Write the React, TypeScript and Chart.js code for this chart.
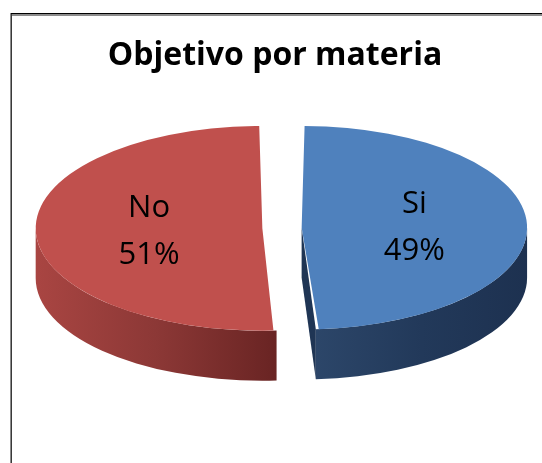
import React, { useEffect, useRef } from 'react';
import { Chart, registerables } from 'chart.js';

Chart.register(...registerables);

// ---- data ----
const categories = ['Si', 'No'];
const values = [49, 51];
const titleText = 'Objetivo por materia';

// ---- styles ----
const topColors = ['#4F81BD', '#C0504D'];
const sideStops = [
  ['#2C4669', '#22395A', '#1D3150'],
  ['#A94542', '#8C3836', '#692423'],
];
const cutFaceColors = ['#1F3554', '#6E2826'];

const CENTER_X = 282;
const CENTER_Y = 228;
const SCALE_X = 2.07;
const SCALE_Y = 0.935;
const DEPTH = 50;
const RADIUS = 100;
const EXPLODE = 38;
const LABEL_FRACTION = 0.5;
const TAU = Math.PI * 2;

function arcGeom(a: any) {
  const o4 = (a.options.offset || 0) / 4;
  const half = (a.startAngle + a.endAngle) / 2;
  const fix = 1 - Math.sin(Math.min(Math.PI, a.circumference || 0));
  const R = a.outerRadius + o4 * fix;
  const px = a.x + Math.cos(half) * o4;
  const py = a.y + Math.sin(half) * o4;
  return { R, px, py, half };
}

function visibleRanges(s: number, e: number) {
  const out: number[][] = [];
  for (let k = -2; k <= 2; k++) {
    const a = Math.max(s, k * TAU);
    const b = Math.min(e, Math.PI + k * TAU);
    if (b > a) out.push([a, b]);
  }
  return out;
}

const pie3d = {
  id: 'pie3d',
  beforeDatasetsDraw(chart: any) {
    const ctx = chart.ctx;
    const meta = chart.getDatasetMeta(0);
    const arcs = meta.data;
    if (!arcs.length) return;
    const cx = arcs[0].x;
    const cy = arcs[0].y;
    ctx.save();
    ctx.translate(CENTER_X, CENTER_Y);
    ctx.scale(SCALE_X, SCALE_Y);
    ctx.translate(-cx, -cy);
    const d = DEPTH / SCALE_Y;

    arcs.forEach((a: any, i: number) => {
      const { R, px, py } = arcGeom(a);
      // visible cut faces
      const faces: number[] = [];
      if (Math.cos(a.endAngle) > 1e-6) faces.push(a.endAngle);
      if (-Math.cos(a.startAngle) > 1e-6) faces.push(a.startAngle);
      faces.forEach((th) => {
        const ex = px + Math.cos(th) * R;
        const ey = py + Math.sin(th) * R;
        ctx.beginPath();
        ctx.moveTo(px, py);
        ctx.lineTo(ex, ey);
        ctx.lineTo(ex, ey + d);
        ctx.lineTo(px, py + d);
        ctx.closePath();
        ctx.fillStyle = cutFaceColors[i % cutFaceColors.length];
        ctx.fill();
      });
      // curved side walls
      visibleRanges(a.startAngle, a.endAngle).forEach(([s, e]) => {
        let xmin = Infinity;
        let xmax = -Infinity;
        for (let k = 0; k <= 40; k++) {
          const t = s + ((e - s) * k) / 40;
          const x = px + Math.cos(t) * R;
          xmin = Math.min(xmin, x);
          xmax = Math.max(xmax, x);
        }
        const g = ctx.createLinearGradient(xmin, 0, xmax, 0);
        const stops = sideStops[i % sideStops.length];
        stops.forEach((c: string, k: number) => g.addColorStop(k / (stops.length - 1), c));
        ctx.beginPath();
        ctx.arc(px, py, R, s, e, false);
        ctx.arc(px, py + d, R, e, s, true);
        ctx.closePath();
        ctx.fillStyle = g;
        ctx.fill();
      });
    });
  },
  afterDatasetsDraw(chart: any) {
    const ctx = chart.ctx;
    ctx.restore();
    const meta = chart.getDatasetMeta(0);
    const arcs = meta.data;
    if (!arcs.length) return;
    const cx = arcs[0].x;
    const cy = arcs[0].y;
    const data = chart.data.datasets[0].data as number[];
    const total = data.reduce((s, v) => s + v, 0);
    ctx.save();
    ctx.fillStyle = '#000000';
    ctx.font = '31px "Open Sans"';
    ctx.textAlign = 'center';
    ctx.textBaseline = 'alphabetic';
    arcs.forEach((a: any, i: number) => {
      const { R, px, py, half } = arcGeom(a);
      const lx = px + Math.cos(half) * R * LABEL_FRACTION;
      const ly = py + Math.sin(half) * R * LABEL_FRACTION;
      const sx = CENTER_X + (lx - cx) * SCALE_X;
      const sy = CENTER_Y + (ly - cy) * SCALE_Y;
      const pct = Math.round((data[i] / total) * 100) + '%';
      ctx.fillText(String(chart.data.labels[i]), sx, sy - 13);
      ctx.fillText(pct, sx, sy + 34);
    });
    ctx.restore();
  },
};

export default function App() {
  const ref = useRef<HTMLCanvasElement | null>(null);

  useEffect(() => {
    if (!ref.current) return;
    const chart = new Chart(ref.current, {
      type: 'pie',
      data: {
        labels: categories,
        datasets: [
          {
            data: values,
            backgroundColor: topColors,
            borderWidth: 0,
            offset: EXPLODE,
            radius: RADIUS,
            clip: false,
          } as any,
        ],
      },
      options: {
        responsive: false,
        animation: false,
        devicePixelRatio: 1,
        events: [],
        radius: RADIUS,
        rotation: 0,
        layout: { padding: { left: 8 } },
        plugins: {
          legend: { display: false },
          tooltip: { enabled: false },
          title: {
            display: true,
            text: titleText,
            color: '#000000',
            font: { family: '"Open Sans"', size: 32, weight: 'bold' },
            padding: { top: 37, bottom: 0 },
          },
        },
      } as any,
      plugins: [pie3d],
    });
    return () => chart.destroy();
  }, []);

  return (
    <div
      style={{
        position: 'fixed',
        left: 0,
        top: 0,
        width: 542,
        height: 463,
        overflow: 'hidden',
        background: '#ffffff',
      }}
    >
      <div style={{ position: 'absolute', left: 10, top: 13, width: 600, height: 1, background: '#000000' }} />
      <div style={{ position: 'absolute', left: 10, top: 14, width: 600, height: 2, background: '#8c8c8c' }} />
      <div style={{ position: 'absolute', left: 10, top: 13, width: 1, height: 500, background: '#8c8c8c' }} />
      <div style={{ position: 'absolute', left: 11, top: 14, width: 1, height: 500, background: '#3a3a3a' }} />
      <canvas
        ref={ref}
        width={542}
        height={463}
        style={{ position: 'absolute', left: 0, top: 0, width: 542, height: 463 }}
      />
    </div>
  );
}
